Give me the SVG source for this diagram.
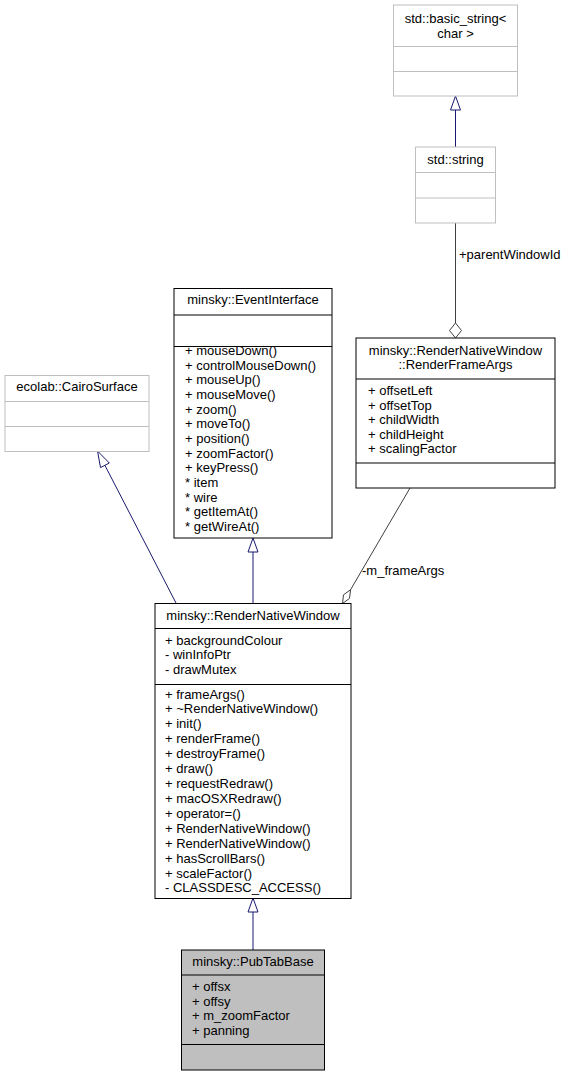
<svg xmlns="http://www.w3.org/2000/svg" width="569" height="1076" viewBox="0 0 569 1076">
<style>
text{font-family:"Liberation Sans",Arial,sans-serif;font-size:13px;fill:#000}
.c{text-anchor:middle}
.box{fill:#fff;stroke:#000;stroke-width:1}
.gbox{fill:#fff;stroke:#bfbfbf;stroke-width:1}
.sel{fill:#bfbfbf;stroke:#000;stroke-width:1}
.ln{stroke:#000;stroke-width:1}
.gln{stroke:#bfbfbf;stroke-width:1}
.inh{stroke:#191970;stroke-width:1;fill:none}
.tri{fill:#fff;stroke:#191970;stroke-width:1}
.agg{stroke:#404040;stroke-width:1;fill:none}
.dia{fill:#fff;stroke:#404040;stroke-width:1}
</style>
<rect width="569" height="1076" fill="#fff"/>
<g id="connectors">
  <line class="inh" x1="455.5" y1="110" x2="455.5" y2="147"/>
  <polygon class="tri" points="455.5,96 450.5,110 460.5,110"/>
  <line class="agg" x1="455.5" y1="223" x2="455.5" y2="323"/>
  <polygon class="dia" points="455.5,323 461.5,330.5 455.5,338 449.5,330.5"/>
  <text x="459" y="259">+parentWindowId</text>
  <line class="inh" x1="104.9" y1="465.3" x2="176" y2="603"/>
  <polygon class="tri" points="97.5,451 109.3,463 100.5,467.6"/>
  <line class="inh" x1="253" y1="552" x2="253" y2="603"/>
  <polygon class="tri" points="253,538 248,552 258,552"/>
  <line class="agg" x1="410" y1="488" x2="350.6" y2="589.7"/>
  <polygon class="dia" points="350.6,589.7 349.5,598.4 342.5,603.5 343.5,594.8"/>
  <text x="362" y="575">-m_frameArgs</text>
  <line class="inh" x1="253" y1="912" x2="253" y2="950"/>
  <polygon class="tri" points="253,898 248,912 258,912"/>
</g>
<g id="std_basic_string">
  <rect class="gbox" x="393.5" y="5" width="124" height="91"/>
  <line class="gln" x1="393.5" y1="46.5" x2="517.5" y2="46.5"/>
  <line class="gln" x1="393.5" y1="71.5" x2="517.5" y2="71.5"/>
  <text class="c" x="455.5" y="23">std::basic_string&lt;</text>
  <text class="c" x="455.5" y="38">char &gt;</text>
</g>
<g id="std_string">
  <rect class="gbox" x="415.5" y="147" width="80" height="76"/>
  <line class="gln" x1="415.5" y1="172.5" x2="495.5" y2="172.5"/>
  <line class="gln" x1="415.5" y1="198" x2="495.5" y2="198"/>
  <text class="c" x="455.5" y="164">std::string</text>
</g>
<g id="ecolab_CairoSurface">
  <rect class="gbox" x="5" y="375.5" width="144" height="76"/>
  <line class="gln" x1="5" y1="401.5" x2="149" y2="401.5"/>
  <line class="gln" x1="5" y1="426.5" x2="149" y2="426.5"/>
  <text class="c" x="77" y="391">ecolab::CairoSurface</text>
</g>
<g id="minsky_EventInterface">
  <rect class="box" x="174" y="288.5" width="158" height="249.5"/>
  <line class="ln" x1="174" y1="315" x2="332" y2="315"/>
  <line class="ln" x1="174" y1="346.5" x2="332" y2="346.5"/>
  <text class="c" x="253" y="304">minsky::EventInterface</text>
  <text x="185" y="355">+ mouseDown()</text>
  <text x="185" y="369.7">+ controlMouseDown()</text>
  <text x="185" y="384.3">+ mouseUp()</text>
  <text x="185" y="399">+ mouseMove()</text>
  <text x="185" y="413.7">+ zoom()</text>
  <text x="185" y="428.3">+ moveTo()</text>
  <text x="185" y="443">+ position()</text>
  <text x="185" y="457.7">+ zoomFactor()</text>
  <text x="185" y="472.3">+ keyPress()</text>
  <text x="185" y="487">* item</text>
  <text x="185" y="501.7">* wire</text>
  <text x="185" y="516.3">* getItemAt()</text>
  <text x="185" y="531">* getWireAt()</text>
</g>
<g id="minsky_RenderFrameArgs">
  <rect class="box" x="356" y="338" width="199" height="150"/>
  <line class="ln" x1="356" y1="379" x2="555" y2="379"/>
  <line class="ln" x1="356" y1="463" x2="555" y2="463"/>
  <text class="c" x="455.5" y="355">minsky::RenderNativeWindow</text>
  <text class="c" x="455.5" y="369">::RenderFrameArgs</text>
  <text x="368" y="395">+ offsetLeft</text>
  <text x="368" y="409.5">+ offsetTop</text>
  <text x="368" y="424">+ childWidth</text>
  <text x="368" y="438.5">+ childHeight</text>
  <text x="368" y="453">+ scalingFactor</text>
</g>
<g id="minsky_RenderNativeWindow">
  <rect class="box" x="155" y="603.5" width="196" height="295"/>
  <line class="ln" x1="155" y1="628.5" x2="351" y2="628.5"/>
  <line class="ln" x1="155" y1="684.5" x2="351" y2="684.5"/>
  <text class="c" x="253" y="619.5">minsky::RenderNativeWindow</text>
  <text x="165" y="644.5">+ backgroundColour</text>
  <text x="165" y="659">- winInfoPtr</text>
  <text x="165" y="673.5">- drawMutex</text>
  <text x="165" y="698.5">+ frameArgs()</text>
  <text x="165" y="713.4">+ ~RenderNativeWindow()</text>
  <text x="165" y="728.3">+ init()</text>
  <text x="165" y="743.3">+ renderFrame()</text>
  <text x="165" y="758.2">+ destroyFrame()</text>
  <text x="165" y="773.1">+ draw()</text>
  <text x="165" y="788">+ requestRedraw()</text>
  <text x="165" y="802.9">+ macOSXRedraw()</text>
  <text x="165" y="817.8">+ operator=()</text>
  <text x="165" y="832.8">+ RenderNativeWindow()</text>
  <text x="165" y="847.7">+ RenderNativeWindow()</text>
  <text x="165" y="862.6">+ hasScrollBars()</text>
  <text x="165" y="877.5">+ scaleFactor()</text>
  <text x="165" y="892.4">- CLASSDESC_ACCESS()</text>
</g>
<g id="minsky_PubTabBase">
  <rect class="sel" x="181.5" y="950" width="143" height="120"/>
  <line class="ln" x1="181.5" y1="975" x2="324.5" y2="975"/>
  <line class="ln" x1="181.5" y1="1044.5" x2="324.5" y2="1044.5"/>
  <text class="c" x="253" y="966">minsky::PubTabBase</text>
  <text x="192" y="991">+ offsx</text>
  <text x="192" y="1005.5">+ offsy</text>
  <text x="192" y="1020">+ m_zoomFactor</text>
  <text x="192" y="1034.5">+ panning</text>
</g>
</svg>
